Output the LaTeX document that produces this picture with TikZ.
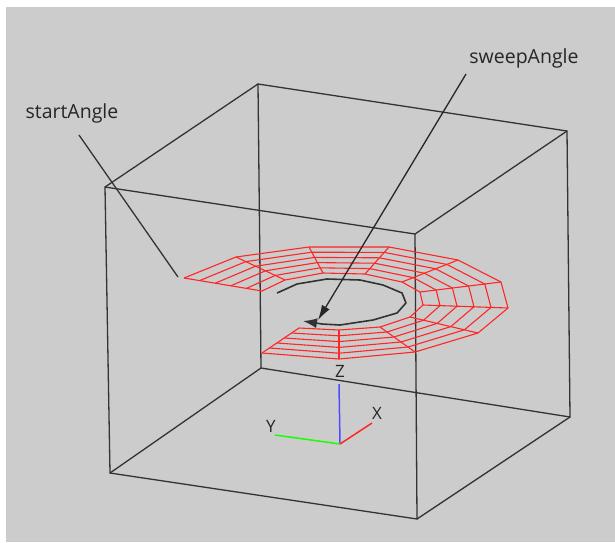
\documentclass[tikz,border=0pt]{standalone}
\usepackage{fontspec}
\setmainfont{Open Sans}
\usetikzlibrary{arrows.meta, calc}

\begin{document}
\begin{tikzpicture}[
    x=1pt,
    y=-1pt,
    frameline/.style={
        draw=black!80,
        line width=1.3pt
    },
    meshline/.style={
        draw=red!85!white,
        line width=1.1pt,
        line join=round
    },
    leader/.style={
        draw=black!80,
        line width=1.3pt
    },
    sweeparrow/.style={
        -{Latex[length=15pt,width=9pt]},
        draw=black!85,
        line width=1.3pt
    },
    turnarrow/.style={
        -{Latex[length=14pt,width=10pt]},
        draw=black!80,
        line width=1.6pt,
        line join=round
    },
    label/.style={
        font=\fontsize{19.5}{23}\selectfont,
        text=black!85,
        inner sep=0pt
    },
    axislabel/.style={
        font=\fontsize{17}{20}\selectfont,
        text=black!85,
        inner sep=0pt
    }
]

\useasboundingbox (0,0) rectangle (615,542);
\fill[white] (0,0) rectangle (615,542);
\fill[black!20] (6,7) rectangle (615,542);

% box corners
\coordinate (fronttl) at (105,187);
\coordinate (fronttr) at (415,234);
\coordinate (frontbr) at (417,519);
\coordinate (frontbl) at (110,473);
\coordinate (backtl) at (258,84);
\coordinate (backtr) at (567,131);
\coordinate (backbr) at (570,417);
\coordinate (backbl) at (261,368);

\draw[frameline] (backtl) -- (backtr) -- (backbr) -- (backbl) -- cycle;
\draw[frameline] (fronttl) -- (fronttr) -- (frontbr) -- (frontbl) -- cycle;
\draw[frameline] (fronttl) -- (backtl);
\draw[frameline] (fronttr) -- (backtr);
\draw[frameline] (frontbr) -- (backbr);
\draw[frameline] (frontbl) -- (backbl);

% mesh, outer and inner rim
\foreach \px/\py [count=\k from 0] in {184/278, 236/257, 309/247, 389/247, 458/260,
    501/282, 508/308, 478/333, 415/352, 339/359, 262/353}
    \coordinate (outer\k) at (\px,\py);
\foreach \px/\py [count=\k from 0] in {262/291, 285/280, 323/273, 365/274, 402/282,
    420/292, 423/305, 410/317, 380/327, 339/330, 299/328}
    \coordinate (inner\k) at (\px,\py);

\foreach \k in {0,...,10}
    \draw[meshline] (outer\k) -- (inner\k);
\foreach \r in {0,...,5}
    \draw[meshline] ($(outer0)!\r/5!(inner0)$)
        \foreach \k in {1,...,10} { -- ($(outer\k)!\r/5!(inner\k)$) };

% arrow round the opening
\coordinate (turnstart) at (277,293);
\coordinate (turnend) at (303,321);
\draw[turnarrow] (turnstart) -- (297,284) -- (327,279) -- (360,280) -- (383,285)
    -- (402,293) -- (406,303) -- (397,313) -- (373,320) -- (340,325) -- (322,324) -- (turnend);

% labels
\node[label] (start) at (72,113) {startAngle};
\node[label] (sweep) at (524,58) {sweepAngle};

\coordinate (startfoot) at (79,135);
\coordinate (starttip) at (178,277);
\coordinate (sweepfoot) at (466,74);
\coordinate (sweeptip) at (318,320);
\draw[leader] (startfoot) -- (starttip);
\draw[sweeparrow] (sweepfoot) -- (sweeptip);

% axes
\coordinate (origin) at (340,444);
\coordinate (zend) at (339,384);
\coordinate (xend) at (372,423);
\coordinate (yend) at (275,435);
\draw[draw=blue!70!white, line width=1.5pt] (origin) -- (zend);
\draw[draw=red!85!white, line width=1.5pt] (origin) -- (xend);
\draw[draw=green!90!yellow, line width=1.5pt] (origin) -- (yend);
\node[axislabel] (zlabel) at (340,371) {Z};
\node[axislabel] (xlabel) at (377,413) {X};
\node[axislabel] (ylabel) at (271,426) {Y};

\end{tikzpicture}
\end{document}
